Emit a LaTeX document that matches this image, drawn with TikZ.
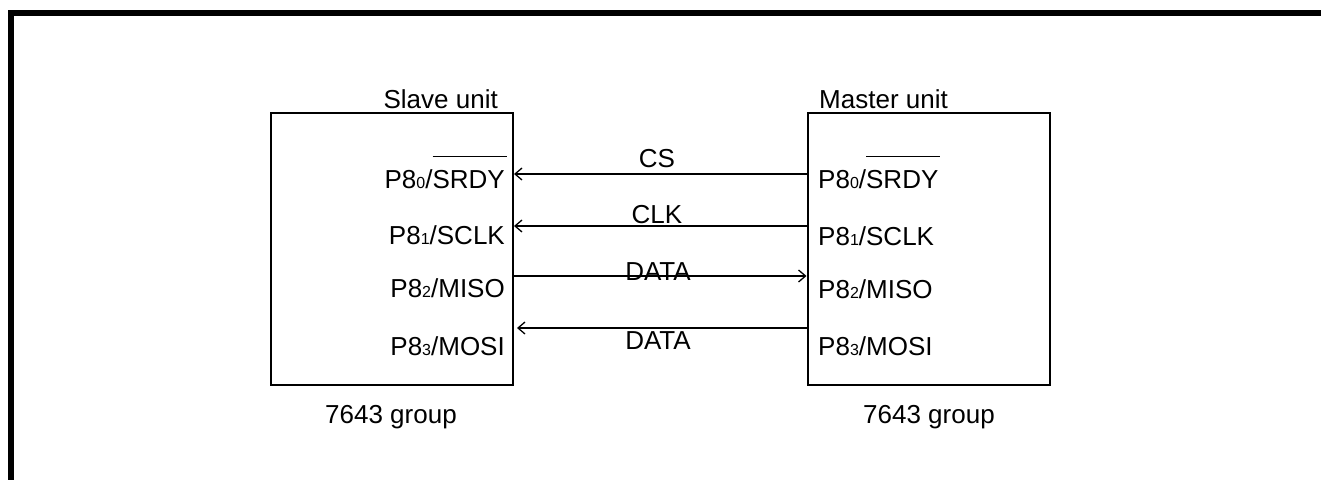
\documentclass[tikz,border=0pt]{standalone}
\usepackage{fontspec}
\setmainfont{Liberation Sans}
\usetikzlibrary{arrows.meta}
\newcommand\smalldig[1]{{\fontsize{16}{16}\selectfont #1}}
\newcommand\ovbar[1]{\setbox0\hbox{#1}\rlap{\rule[31pt]{\dimexpr\wd0+2pt\relax}{1.3pt}}\box0}
\begin{document}
\begin{tikzpicture}[x=1pt,y=-1pt,
  txt/.style={inner sep=0pt,font=\fontsize{26}{30}\selectfont},
  unitbox/.style={draw,line width=2pt,inner sep=0pt,minimum width=242pt,minimum height=272pt},
  sig/.style={line width=1.3pt,-{Straight Barb[length=7pt,width=12pt,line width=1.3pt]}},
  frame/.style={line width=5.5pt}]
\useasboundingbox (0,0) rectangle (1321,479);
\draw[frame] (11,490) -- (11,13) -- (1330,13);
% boxes
\node[unitbox] (slave) at (392,249) {};
\node[unitbox] (master) at (928.5,249) {};
% titles
\node[txt,anchor=base east] (slavet) at (498,108) {Slave unit};
\node[txt,anchor=base west] (mastert) at (819,108) {Master unit};
\node[txt,anchor=base west] (sg) at (325,423) {7643 group};
\node[txt,anchor=base west] (mg) at (863,423) {7643 group};
% slave pins
\node[txt,anchor=base east] (s0) at (505,188) {P8\smalldig{0}/\ovbar{SRDY}};
\node[txt,anchor=base east] (s1) at (505,244) {P8\smalldig{1}/SCLK};
\node[txt,anchor=base east] (s2) at (505,297) {P8\smalldig{2}/MISO};
\node[txt,anchor=base east] (s3) at (505,355) {P8\smalldig{3}/MOSI};
% master pins
\node[txt,anchor=base west] (m0) at (818,188) {P8\smalldig{0}/\ovbar{SRDY}};
\node[txt,anchor=base west] (m1) at (818,245) {P8\smalldig{1}/SCLK};
\node[txt,anchor=base west] (m2) at (818,298) {P8\smalldig{2}/MISO};
\node[txt,anchor=base west] (m3) at (818,355) {P8\smalldig{3}/MOSI};
% signal levels
\coordinate (a0) at (0,174);
\coordinate (a1) at (0,226);
\coordinate (a2) at (0,276);
\coordinate (a3) at (0,328);
\coordinate (a3t) at (517,328);
\draw[sig] (master.west |- a0) -- (slave.east |- a0);
\draw[sig] (master.west |- a1) -- (slave.east |- a1);
\draw[sig] (slave.east |- a2) -- (master.west |- a2);
\draw[sig] (master.west |- a3) -- (a3t);
% labels
\node[txt,anchor=base] (lcs) at (657,167) {CS};
\node[txt,anchor=base] (lclk) at (657,223) {CLK};
\node[txt,anchor=base] (ld1) at (658,280) {DATA};
\node[txt,anchor=base] (ld2) at (658,349) {DATA};
\end{tikzpicture}
\end{document}
